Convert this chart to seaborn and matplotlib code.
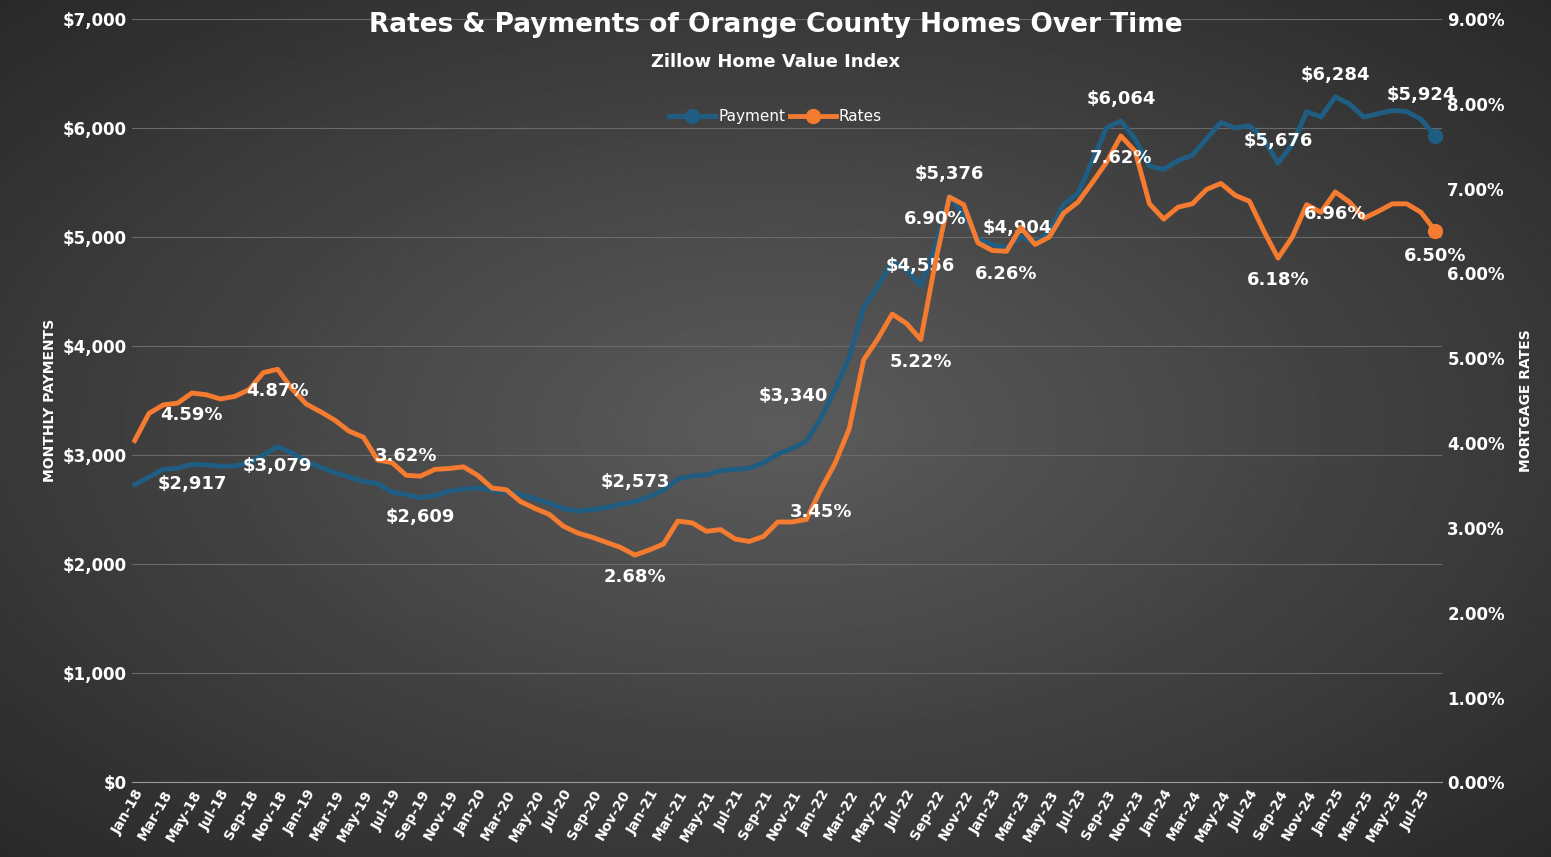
import matplotlib
matplotlib.use("Agg")
import matplotlib.pyplot as plt
import numpy as np
import pandas as pd
import seaborn as sns
from matplotlib.lines import Line2D

months = pd.date_range("2018-01-01", "2025-08-01", freq="MS")

payment = [
    2730, 2800, 2870, 2880, 2917, 2910, 2900, 2900, 2930, 3000, 3079, 3020,
    2940, 2890, 2840, 2800, 2760, 2740, 2660, 2640, 2609, 2630, 2670, 2690,
    2700, 2680, 2660, 2640, 2600, 2560, 2510, 2490, 2500, 2520, 2550, 2573,
    2620, 2680, 2780, 2810, 2820, 2860, 2870, 2880, 2930, 3010, 3060, 3130,
    3340, 3600, 3900, 4350, 4550, 4780, 4700, 4556, 4900, 5376, 5200, 4980,
    4930, 4904, 5000, 4950, 5050, 5300, 5400, 5700, 6000, 6064, 5900, 5650,
    5620, 5700, 5750, 5900, 6050, 6000, 6020, 5900, 5676, 5850, 6150, 6100,
    6284, 6220, 6100, 6130, 6160, 6150, 6080, 5924,
]
rates = [
    4.03, 4.35, 4.45, 4.47, 4.59, 4.57, 4.52, 4.55, 4.63, 4.83, 4.87, 4.64,
    4.46, 4.37, 4.27, 4.14, 4.07, 3.80, 3.77, 3.62, 3.61, 3.69, 3.70, 3.72,
    3.62, 3.47, 3.45, 3.31, 3.23, 3.16, 3.02, 2.94, 2.89, 2.83, 2.77, 2.68,
    2.74, 2.81, 3.08, 3.06, 2.96, 2.98, 2.87, 2.84, 2.90, 3.07, 3.07, 3.10,
    3.45, 3.76, 4.17, 4.98, 5.23, 5.52, 5.41, 5.22, 6.11, 6.90, 6.81, 6.36,
    6.27, 6.26, 6.54, 6.34, 6.43, 6.71, 6.84, 7.07, 7.31, 7.62, 7.44, 6.82,
    6.64, 6.78, 6.82, 6.99, 7.06, 6.92, 6.85, 6.50, 6.18, 6.43, 6.81, 6.72,
    6.96, 6.84, 6.65, 6.73, 6.82, 6.82, 6.72, 6.50,
]
tick_labels = [m.strftime("%b-%y") for m in months]

# (index, dx, dy) offsets in points for labels
pay_labels = [(4, 0, -14), (10, 0, -14), (20, 0, -14), (35, 0, 14), (48, -20, 16),
              (55, 0, 14), (57, 0, 16), (61, 8, 14), (69, 0, 16), (80, 0, 16),
              (84, 0, 16), (91, -10, 30)]
rate_labels = [(4, 0, -16), (10, 0, -16), (19, 0, 14), (35, 0, -16), (48, 0, -16),
               (55, 0, -16), (57, -10, -16), (61, 0, -16), (69, 0, -16), (80, 0, -16),
               (84, 0, -16), (91, 0, -18)]

BLUE = "#1f5e82"
ORANGE = "#f47b30"

df = pd.DataFrame({"idx": np.arange(len(months)), "payment": payment, "rates": rates})

fig = plt.figure(figsize=(15.51, 8.57), dpi=100)
bg = fig.add_axes([0, 0, 1, 1], zorder=-10)
yy, xx = np.mgrid[-1:1:300j, -1:1:500j]
r = np.sqrt(xx ** 2 + yy ** 2)
bg.imshow(0.36 - 0.14 * r, cmap="gray", vmin=0, vmax=1, aspect="auto", extent=[0, 1, 0, 1])
bg.axis("off")

ax = fig.add_axes([0.085, 0.087, 0.845, 0.891])
ax.patch.set_alpha(0)
ax2 = ax.twinx()

sns.lineplot(data=df, x="idx", y="payment", ax=ax, color=BLUE, linewidth=3.5, zorder=3)
sns.lineplot(data=df, x="idx", y="rates", ax=ax2, color=ORANGE, linewidth=3.5, zorder=3)
ax.plot(df["idx"].iloc[-1], payment[-1], "o", color=BLUE, ms=10, zorder=4)
ax2.plot(df["idx"].iloc[-1], rates[-1], "o", color=ORANGE, ms=10, zorder=4)

ax.set_ylim(0, 7000)
ax2.set_ylim(0, 9)
ax.set_xlim(-0.2, len(months) - 0.5)
ax.set_yticks(range(0, 7001, 1000))
ax.set_yticklabels([f"${v:,}" for v in range(0, 7001, 1000)])
ax2.set_yticks(range(0, 10))
ax2.set_yticklabels([f"{v:.2f}%" for v in range(0, 10)])
ax.set_xticks(range(0, len(months), 2))
ax.set_xticklabels(tick_labels[::2], rotation=60, ha="right", rotation_mode="anchor")
ax.grid(axis="y", color="#6a6a6a", linewidth=0.8)
ax.set_axisbelow(True)
for a in (ax, ax2):
    for s in a.spines.values():
        s.set_visible(False)
    a.tick_params(colors="white", length=0, labelsize=12)
    for t in a.get_yticklabels() + a.get_xticklabels():
        t.set_fontweight("bold")
ax.spines["bottom"].set_visible(True)
ax.spines["bottom"].set_color("#9a9a9a")
ax.tick_params(axis="x", labelsize=10)
ax.set_xlabel("")
ax.set_ylabel("MONTHLY PAYMENTS", color="white", fontsize=10, fontweight="bold")
ax2.set_ylabel("MORTGAGE RATES", color="white", fontsize=10, fontweight="bold", labelpad=10)

for i, dx, dy in pay_labels:
    ax.annotate(f"${payment[i]:,}", (i, payment[i]), xytext=(dx, dy), textcoords="offset points",
                ha="center", va="center", color="white", fontsize=13, fontweight="bold", zorder=5)
for i, dx, dy in rate_labels:
    ax2.annotate(f"{rates[i]:.2f}%", (i, rates[i]), xytext=(dx, dy), textcoords="offset points",
                 ha="center", va="center", color="white", fontsize=13, fontweight="bold", zorder=5)

fig.text(0.5, 0.963, "Rates & Payments of Orange County Homes Over Time", ha="center",
         color="white", fontsize=19, fontweight="bold")
fig.text(0.5, 0.922, "Zillow Home Value Index", ha="center", color="white", fontsize=13,
         fontweight="bold")

handles = [Line2D([], [], color=BLUE, lw=3.5, marker="o", ms=10),
           Line2D([], [], color=ORANGE, lw=3.5, marker="o", ms=10)]
leg = fig.legend(handles, ["Payment", "Rates"], loc="center", bbox_to_anchor=(0.5, 0.864),
                 ncol=2, frameon=False, fontsize=11, handlelength=3, columnspacing=0.3,
                 handletextpad=0.2)
for t in leg.get_texts():
    t.set_color("white")

fig.savefig("out.png", dpi=100)
